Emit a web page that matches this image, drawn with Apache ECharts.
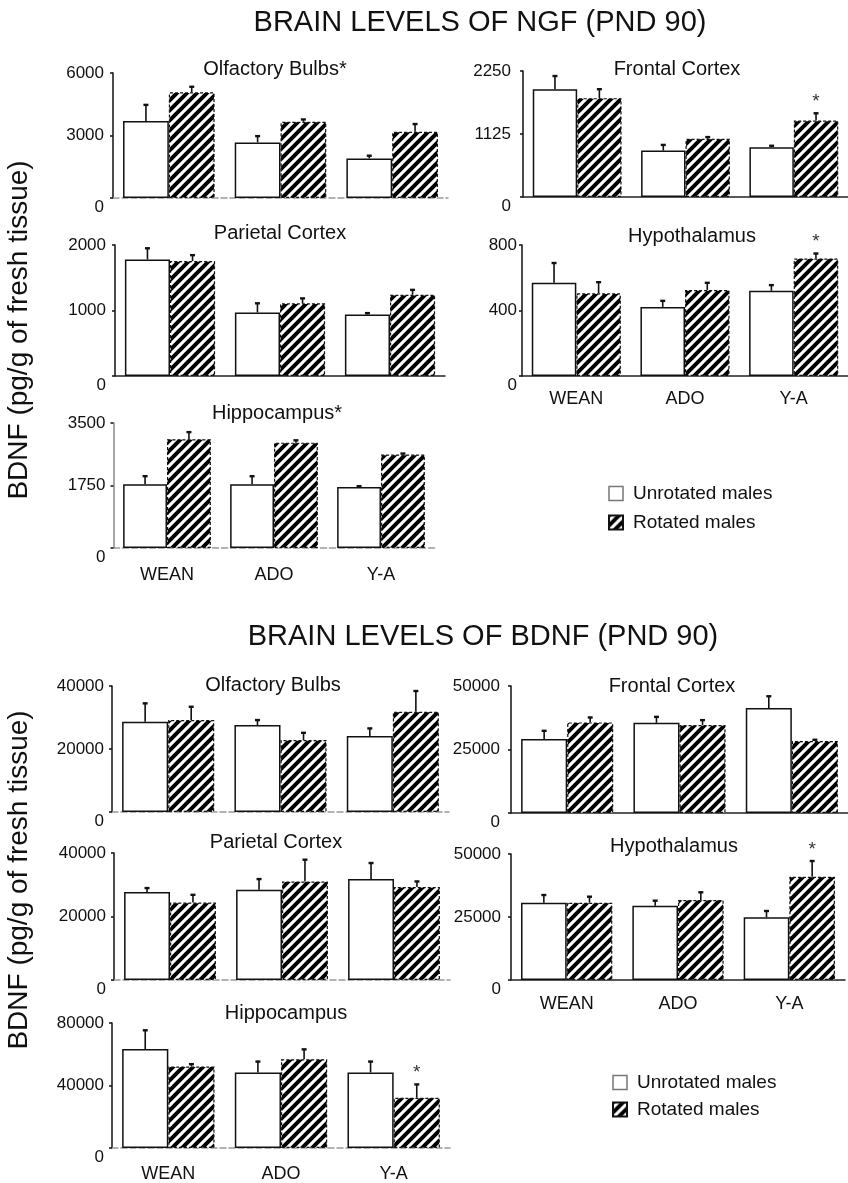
<!DOCTYPE html>
<html><head><meta charset="utf-8">
<script src="https://cdn.jsdelivr.net/npm/echarts@6/dist/echarts.min.js"></script>
<style>html,body{margin:0;padding:0;background:#fff}#c{width:848px;height:1183px}</style>
</head><body><div id="c"></div>
<script>
// ---------- DATA ----------
const categories = ['WEAN', 'ADO', 'Y-A'];
const seriesNames = ['Unrotated males', 'Rotated males'];
const sectionTitles = ['BRAIN LEVELS OF NGF (PND 90)', 'BRAIN LEVELS OF BDNF (PND 90)'];
const yAxisTitle = 'BDNF (pg/g of fresh tissue)';
const panelTitles = ['Olfactory Bulbs*', 'Frontal Cortex', 'Parietal Cortex', 'Hypothalamus', 'Hippocampus*',
                     'Olfactory Bulbs', 'Frontal Cortex', 'Parietal Cortex', 'Hypothalamus', 'Hippocampus'];
const axisMax = [6000, 2250, 2000, 800, 3500, 40000, 50000, 40000, 50000, 80000];

// NGF
const ngfOlfUnrot = [3700, 2670, 1900];   const ngfOlfUnrotErr = [770, 300, 130];
const ngfOlfRot   = [5070, 3660, 3180];   const ngfOlfRotErr   = [270, 110, 370];
const ngfFroUnrot = [1925, 830, 890];     const ngfFroUnrotErr = [235, 100, 25];
const ngfFroRot   = [1765, 1040, 1365];   const ngfFroRotErr   = [160, 30, 130];
const ngfParUnrot = [1780, 970, 940];     const ngfParUnrotErr = [170, 140, 20];
const ngfParRot   = [1755, 1110, 1240];   const ngfParRotErr   = [90, 75, 75];
const ngfHypUnrot = [570, 422, 520];      const ngfHypUnrotErr = [120, 37, 35];
const ngfHypRot   = [505, 525, 718];      const ngfHypRotErr   = [68, 44, 30];
const ngfHipUnrot = [1785, 1785, 1710];   const ngfHipUnrotErr = [225, 225, 20];
const ngfHipRot   = [3045, 2950, 2615];   const ngfHipRotErr   = [200, 65, 30];
// BDNF
const bdnfOlfUnrot = [28640, 27590, 24090]; const bdnfOlfUnrotErr = [5850, 1600, 2450];
const bdnfOlfRot   = [29180, 22820, 31820]; const bdnfOlfRotErr   = [4230, 2320, 6590];
const bdnfFroUnrot = [29110, 35500, 41380]; const bdnfFroUnrotErr = [3250, 2350, 4580];
const bdnfFroRot   = [35660, 34600, 28330]; const bdnfFroRotErr   = [1960, 1960, 500];
const bdnfParUnrot = [27690, 28410, 31790]; const bdnfParUnrotErr = [1260, 3380, 5050];
const bdnfParRot   = [24400, 31040, 29270]; const bdnfParRotErr   = [2430, 6850, 1770];
const bdnfHypUnrot = [30680, 29480, 24880]; const bdnfHypUnrotErr = [3050, 2000, 2500];
const bdnfHypRot   = [30680, 31750, 40990]; const bdnfHypRotErr   = [2380, 3050, 6230];
const bdnfHipUnrot = [63330, 48370, 48370]; const bdnfHipUnrotErr = [12000, 6950, 6950];
const bdnfHipRot   = [52160, 56830, 32200]; const bdnfHipRotErr   = [1500, 6300, 8500];
// significance (asterisk above rotated bar)
const sigNone = [0, 0, 0];
const sigYA = [0, 0, 1];

const unrotData = [ngfOlfUnrot, ngfFroUnrot, ngfParUnrot, ngfHypUnrot, ngfHipUnrot, bdnfOlfUnrot, bdnfFroUnrot, bdnfParUnrot, bdnfHypUnrot, bdnfHipUnrot];
const unrotErr  = [ngfOlfUnrotErr, ngfFroUnrotErr, ngfParUnrotErr, ngfHypUnrotErr, ngfHipUnrotErr, bdnfOlfUnrotErr, bdnfFroUnrotErr, bdnfParUnrotErr, bdnfHypUnrotErr, bdnfHipUnrotErr];
const rotData   = [ngfOlfRot, ngfFroRot, ngfParRot, ngfHypRot, ngfHipRot, bdnfOlfRot, bdnfFroRot, bdnfParRot, bdnfHypRot, bdnfHipRot];
const rotErr    = [ngfOlfRotErr, ngfFroRotErr, ngfParRotErr, ngfHypRotErr, ngfHipRotErr, bdnfOlfRotErr, bdnfFroRotErr, bdnfParRotErr, bdnfHypRotErr, bdnfHipRotErr];
const rotSig    = [sigNone, sigYA, sigNone, sigYA, sigNone, sigNone, sigNone, sigNone, sigYA, sigYA];

// ---------- LAYOUT / STYLE ----------
const FONT = '"Liberation Sans", Arial, sans-serif';
const gridBoxes = [ // left, top, width, height
  [113, 73, 335, 125], [523, 71, 328, 126], [115, 245, 330, 131], [522, 245, 330, 131], [113.5, 423, 321, 125],
  [112, 686, 337, 126], [511, 686, 337, 127], [114, 853, 336, 127], [511, 854, 334, 126], [112, 1023, 338, 126]
];
const titlePos = [[275, 69], [677, 69], [280, 233], [692, 236], [277, 413], [273, 685], [672, 686], [276, 842], [674, 846], [286, 1013]];
const baseDark = [false, true, true, true, false, false, true, false, true, false];
const yAxisGrey = [false, false, false, false, true, false, false, false, false, false];
const yLabelMargin = [9, 12, 9, 5, 8, 8, 11, 8, 10, 8];
const showXLabels = [false, false, false, true, true, false, false, false, true, true];
const xLabelMargin = [15, 15, 15, 14, 18, 15, 15, 15, 15, 17];
const GAP = 0.18;

function stripes() {
  const c = document.createElement('canvas');
  c.width = 10; c.height = 10;
  const g = c.getContext('2d');
  g.fillStyle = '#fff'; g.fillRect(0, 0, 10, 10);
  g.strokeStyle = '#000'; g.lineWidth = 4;
  g.beginPath();
  g.moveTo(-5, 5); g.lineTo(5, -5);
  g.moveTo(-5, 15); g.lineTo(15, -5);
  g.moveTo(5, 15); g.lineTo(15, 5);
  g.stroke();
  return c;
}
const hatch = { image: stripes(), repeat: 'repeat' };

function errRender(side) {
  return function (params, api) {
    const i = api.value(0), v = api.value(1), e = api.value(2), s = api.value(3);
    const base = api.coord([i, v]);
    const top = api.coord([i, v + e]);
    const band = api.size([1, 0])[0];
    const bw = band * (1 - GAP) / 2;
    const x = base[0] + side * bw / 2;
    const ch = [
      { type: 'line', shape: { x1: x, y1: base[1], x2: x, y2: top[1] }, style: { stroke: '#111', lineWidth: 1.6 } },
      { type: 'line', shape: { x1: x - 2.5, y1: top[1], x2: x + 2.5, y2: top[1] }, style: { stroke: '#111', lineWidth: 2.4 } }
    ];
    if (s) ch.push({ type: 'text', x: x, y: top[1] - 2, style: { text: '*', textAlign: 'center', textVerticalAlign: 'bottom', font: '19px ' + FONT, fill: '#333' } });
    return { type: 'group', children: ch };
  };
}

const grid = [], xAxis = [], yAxis = [], series = [], graphic = [];
for (let p = 0; p < 10; p++) {
  const b = gridBoxes[p];
  grid.push({ left: b[0], top: b[1], width: b[2], height: b[3], containLabel: false });
  xAxis.push({
    type: 'category', gridIndex: p, data: categories,
    axisTick: { show: false },
    axisLine: { lineStyle: baseDark[p] ? { color: '#222', width: 1.5 } : { color: '#999', width: 1.5, type: 'dashed' } },
    axisLabel: { show: showXLabels[p], fontSize: 18, fontFamily: FONT, color: '#111', margin: xLabelMargin[p] }
  });
  yAxis.push({
    type: 'value', gridIndex: p, min: 0, max: axisMax[p], interval: axisMax[p] / 2,
    splitLine: { show: false },
    axisLine: { show: true, lineStyle: { color: yAxisGrey[p] ? '#888' : '#111', width: 1.5 } },
    axisTick: { show: true, length: 3, lineStyle: { color: '#111', width: 1.5 } },
    axisLabel: {
      fontSize: 17, fontFamily: FONT, color: '#111', margin: yLabelMargin[p],
      formatter: v => v === 0 ? '{z|0}' : String(v),
      rich: { z: { fontSize: 17, fontFamily: FONT, color: '#111', padding: [18, 0, 0, 0] } }
    }
  });
  series.push({
    name: seriesNames[0], type: 'bar', xAxisIndex: p, yAxisIndex: p, data: unrotData[p],
    barGap: '0%', barCategoryGap: (GAP * 100) + '%',
    itemStyle: { color: '#fff', borderColor: '#111', borderWidth: 1.5 }, silent: true
  });
  series.push({
    name: seriesNames[1], type: 'bar', xAxisIndex: p, yAxisIndex: p, data: rotData[p],
    barGap: '0%', barCategoryGap: (GAP * 100) + '%',
    itemStyle: { color: hatch, borderColor: '#111', borderWidth: 1.2, borderType: [3, 2] }, silent: true
  });
  series.push({
    type: 'custom', xAxisIndex: p, yAxisIndex: p, z: 5, silent: true,
    data: categories.map((c, i) => [i, unrotData[p][i], unrotErr[p][i], 0]),
    encode: { x: 0, y: 1 }, renderItem: errRender(-1)
  });
  series.push({
    type: 'custom', xAxisIndex: p, yAxisIndex: p, z: 5, silent: true,
    data: categories.map((c, i) => [i, rotData[p][i], rotErr[p][i], rotSig[p][i]]),
    encode: { x: 0, y: 1 }, renderItem: errRender(1)
  });
  graphic.push({ type: 'text', x: titlePos[p][0], y: titlePos[p][1], style: { text: panelTitles[p], textAlign: 'center', textVerticalAlign: 'middle', font: '20px ' + FONT, fill: '#111' } });
}
graphic.push({ type: 'text', x: 480, y: 23, style: { text: sectionTitles[0], textAlign: 'center', textVerticalAlign: 'middle', font: '29px ' + FONT, fill: '#111' } });
graphic.push({ type: 'text', x: 483, y: 637, style: { text: sectionTitles[1], textAlign: 'center', textVerticalAlign: 'middle', font: '29px ' + FONT, fill: '#111' } });
graphic.push({ type: 'text', x: 19, y: 330, rotation: Math.PI / 2, style: { text: yAxisTitle, textAlign: 'center', textVerticalAlign: 'middle', font: '28px ' + FONT, fill: '#111' } });
graphic.push({ type: 'text', x: 19, y: 880, rotation: Math.PI / 2, style: { text: yAxisTitle, textAlign: 'center', textVerticalAlign: 'middle', font: '28px ' + FONT, fill: '#111' } });

const legendBase = {
  orient: 'vertical', itemWidth: 14, itemHeight: 14, selectedMode: false, icon: 'rect', padding: 0,
  textStyle: { fontSize: 19, fontFamily: FONT, color: '#111', padding: [0, 0, 0, 5], lineHeight: 19 },
  data: [{ name: seriesNames[0], itemStyle: { borderColor: '#777', borderWidth: 1.5 } }, { name: seriesNames[1] }]
};
const legend = [
  Object.assign({}, legendBase, { left: 608, top: 484, itemGap: 10 }),
  Object.assign({}, legendBase, { left: 612, top: 1073, itemGap: 8 })
];

const chart = echarts.init(document.getElementById('c'), null, { renderer: 'canvas' });
chart.setOption({ animation: false, backgroundColor: '#fff', grid, xAxis, yAxis, series, legend, graphic });
</script></body></html>
